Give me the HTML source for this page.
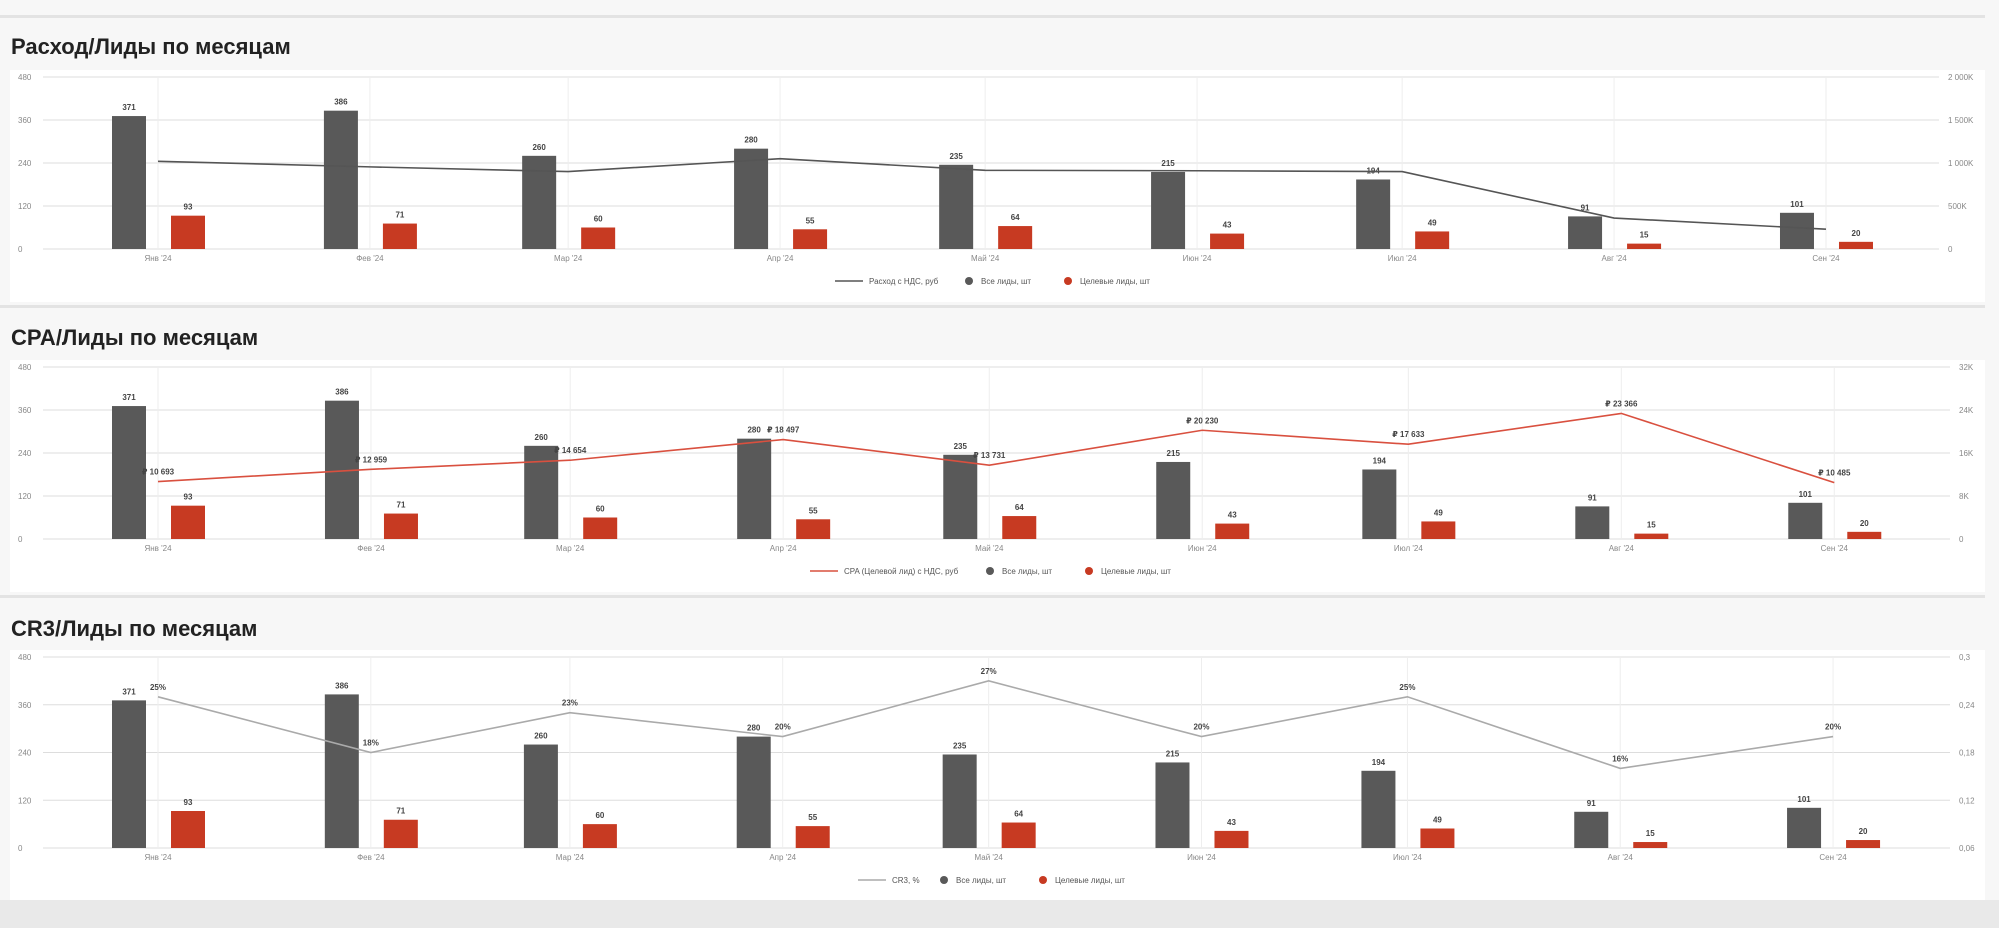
<!DOCTYPE html>
<html><head><meta charset="utf-8">
<style>
body{margin:0;width:1999px;height:928px;background:#f7f7f7;overflow:hidden;font-family:"Liberation Sans","DejaVu Sans",sans-serif;}
svg{position:absolute;left:0;top:0}
</style></head><body>
<svg id="s" width="1999" height="928" xmlns="http://www.w3.org/2000/svg"></svg>
<script>
const S=document.getElementById('s');let h='';
h+='<rect x="0" y="900" width="1999" height="28" fill="#e9e9e9"/>';
const months=['Янв \'24','Фев \'24','Мар \'24','Апр \'24','Май \'24','Июн \'24','Июл \'24','Авг \'24','Сен \'24'];
const days=[0,31,60,91,121,152,182,213,244];
const all=[371,386,260,280,235,215,194,91,101], tgt=[93,71,60,55,64,43,49,15,20];
function chart(o){
 const {titleY,title,panelTop,panelBot,top,zero,scale,right,rl,rv,line,lc,lbl,leg,legY,sepY}=o;
 h+=`<rect x="0" y="${sepY}" width="1985" height="3" fill="#e3e3e3"/>`;
 h+=`<text x="11" y="${titleY}" font-size="22" font-weight="bold" fill="#222">${title}</text>`;
 h+=`<rect x="10" y="${panelTop}" width="1975" height="${panelBot-panelTop}" fill="#fff"/>`;
 const H=zero-top;
 for(let i=0;i<=4;i++){const y=zero-H*i/4;
  h+=`<line x1="43" x2="${right}" y1="${y}" y2="${y}" stroke="#ddd" stroke-width="1"/>`;
  h+=`<text x="18" y="${y+3}" font-size="8" fill="#888">${i*120}</text>`;
  h+=`<text x="${right+9}" y="${y+3}" font-size="8" fill="#888">${rl[i]}</text>`;}
 const xs=days.map(d=>158+d*scale);
 xs.forEach((x,i)=>{h+=`<line x1="${x}" x2="${x}" y1="${top}" y2="${zero}" stroke="#eee"/>`;
  h+=`<text x="${x}" y="${zero+12}" font-size="8" fill="#888" text-anchor="middle">${months[i]}</text>`;
  const ga=all[i]/480*H, ra=tgt[i]/480*H;
  h+=`<rect x="${x-46}" y="${zero-ga}" width="34" height="${ga}" fill="#595959"/>`;
  h+=`<rect x="${x+13}" y="${zero-ra}" width="34" height="${ra}" fill="#c73a22"/>`;
  h+=`<text x="${x-29}" y="${zero-ga-6}" font-size="8" font-weight="bold" fill="#444" text-anchor="middle">${all[i]}</text>`;
  h+=`<text x="${x+30}" y="${zero-ra-6}" font-size="8" font-weight="bold" fill="#444" text-anchor="middle">${tgt[i]}</text>`;});
 const pts=xs.map((x,i)=>[x,zero-(line[i]-rv[0])/(rv[1]-rv[0])*H]);
 h+=`<polyline points="${pts.map(p=>p.join(',')).join(' ')}" fill="none" stroke="${lc}" stroke-width="1.6"/>`;
 if(lbl)pts.forEach((p,i)=>{h+=`<text x="${p[0]}" y="${p[1]-7}" font-size="8" font-weight="bold" fill="#444" text-anchor="middle">${lbl[i]}</text>`;});
 const lx=o.legX;
 h+=`<line x1="${lx}" x2="${lx+28}" y1="${legY}" y2="${legY}" stroke="${lc}" stroke-width="1.6"/>`;
 h+=`<text x="${lx+34}" y="${legY+3}" font-size="8" fill="#555">${leg}</text>`;
 const c1=lx+o.legW;
 h+=`<circle cx="${c1}" cy="${legY}" r="4" fill="#595959"/><text x="${c1+12}" y="${legY+3}" font-size="8" fill="#555">Все лиды, шт</text>`;
 h+=`<circle cx="${c1+99}" cy="${legY}" r="4" fill="#c73a22"/><text x="${c1+111}" y="${legY+3}" font-size="8" fill="#555">Целевые лиды, шт</text>`;
}
chart({sepY:15,titleY:54,title:'Расход/Лиды по месяцам',panelTop:70,panelBot:302,top:77,zero:249,scale:6.836,right:1939,
 rl:['0','500K','1 000K','1 500K','2 000K'],rv:[0,2000],line:[1020,955,900,1050,915,910,900,360,230],lc:'#555',legX:835,legW:134,legY:281,leg:'Расход с НДС, руб'});
chart({sepY:305,titleY:345,title:'CPA/Лиды по месяцам',panelTop:360,panelBot:592,top:367,zero:539,scale:6.87,right:1950,
 rl:['0','8K','16K','24K','32K'],rv:[0,32000],line:[10693,12959,14654,18497,13731,20230,17633,23366,10485],lc:'#d9503f',
 lbl:['₽ 10 693','₽ 12 959','₽ 14 654','₽ 18 497','₽ 13 731','₽ 20 230','₽ 17 633','₽ 23 366','₽ 10 485'],legX:810,legW:180,legY:571,leg:'CPA (Целевой лид) с НДС, руб'});
chart({sepY:595,titleY:636,title:'CR3/Лиды по месяцам',panelTop:650,panelBot:900,top:657,zero:848,scale:6.865,right:1950,
 rl:['0,06','0,12','0,18','0,24','0,3'],rv:[0.06,0.3],line:[.25,.18,.23,.2,.27,.2,.25,.16,.2],lc:'#aaa',
 lbl:['25%','18%','23%','20%','27%','20%','25%','16%','20%'],legX:858,legW:86,legY:880,leg:'CR3, %'});
S.innerHTML=h;
</script>
</body></html>
